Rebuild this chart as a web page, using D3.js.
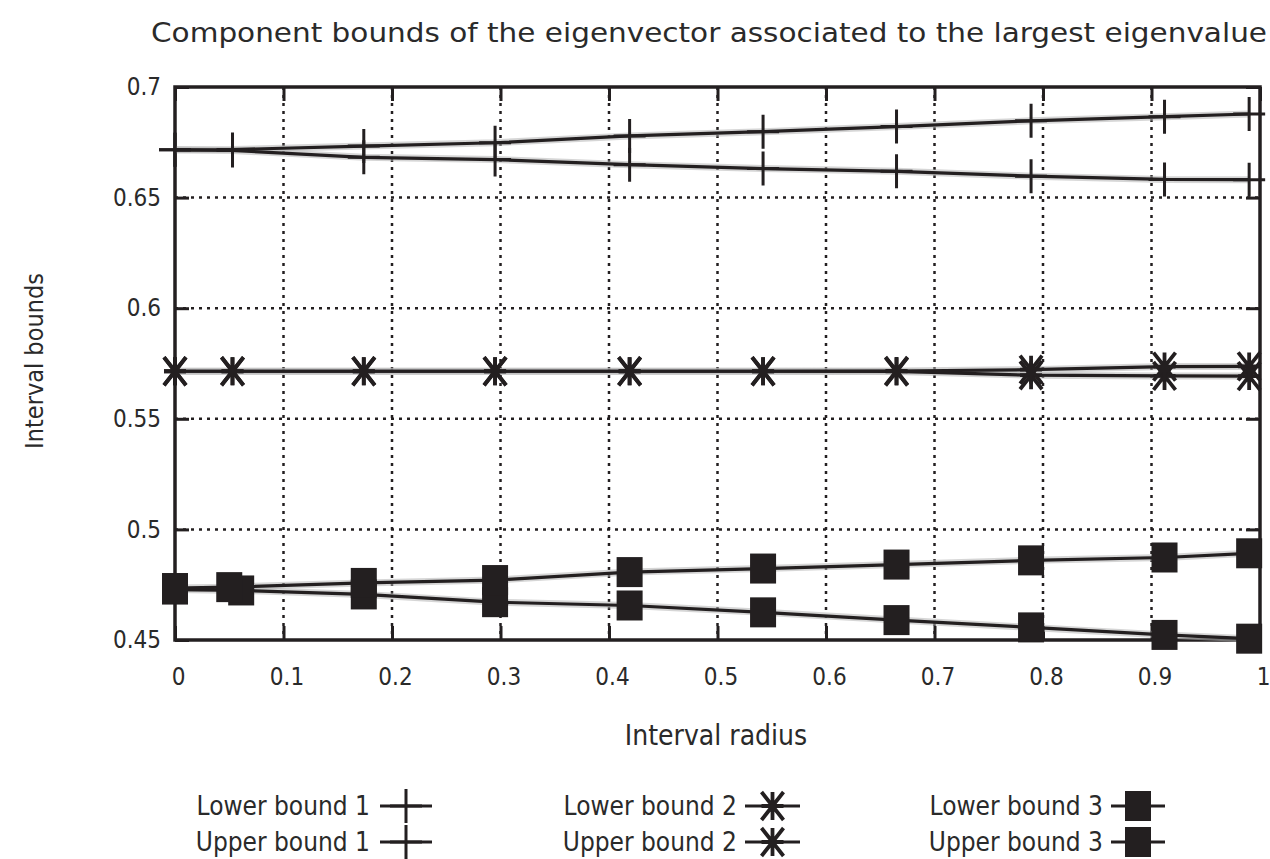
<!DOCTYPE html>
<html>
<head>
<meta charset="utf-8">
<script src="https://cdn.jsdelivr.net/npm/d3@7"></script>
<style>
  html, body { margin: 0; padding: 0; background: #fff; }
  svg { display: block; }
  text { font-family: "DejaVu Sans Condensed", "Liberation Sans Narrow", "DejaVu Sans", sans-serif; fill: #2a2a2a; }
</style>
</head>
<body>
<svg id="chart" width="1270" height="859"></svg>
<script>
// ---- data ----
const title = "Component bounds of the eigenvector associated to the largest eigenvalue";
const xLabel = "Interval radius";
const yLabel = "Interval bounds";
const xTicks = [0, 0.1, 0.2, 0.3, 0.4, 0.5, 0.6, 0.7, 0.8, 0.9, 1];
const yTicks = [0.45, 0.5, 0.55, 0.6, 0.65, 0.7];

const radius = [0, 0.053, 0.174, 0.295, 0.419, 0.542, 0.665, 0.789, 0.912, 0.99];
const radiusLower3 = [0, 0.061, 0.174, 0.295, 0.419, 0.542, 0.665, 0.789, 0.912, 0.99];
const radiusUpper3 = [0, 0.05, 0.174, 0.295, 0.419, 0.542, 0.665, 0.789, 0.912, 0.99];

const lower1 = [0.6716, 0.6713, 0.6682, 0.6672, 0.6649, 0.6631, 0.6619, 0.6597, 0.6582, 0.6581];
const upper1 = [0.6716, 0.6717, 0.6733, 0.6748, 0.6779, 0.6798, 0.6821, 0.6847, 0.6866, 0.6878];
const lower2 = [0.5715, 0.5715, 0.5715, 0.5715, 0.5715, 0.5715, 0.5714, 0.5697, 0.5694, 0.5693];
const upper2 = [0.5715, 0.5715, 0.5715, 0.5715, 0.5715, 0.5715, 0.5716, 0.5722, 0.5736, 0.5737];
const lower3 = [0.4728, 0.4724, 0.4706, 0.4671, 0.4656, 0.4625, 0.4590, 0.4557, 0.4523, 0.4506];
const upper3 = [0.4735, 0.4739, 0.4758, 0.4771, 0.4807, 0.4823, 0.4841, 0.4860, 0.4873, 0.4892];

const seriesNames = ["Lower bound 1", "Upper bound 1", "Lower bound 2", "Upper bound 2", "Lower bound 3", "Upper bound 3"];
const seriesMarkers = ["plus", "plus", "star", "star", "square", "square"];

// ---- layout ----
const svg = d3.select("#chart");
const L = 175, R = 1260, T = 87, B = 640;
const x = d3.scaleLinear().domain([0, 1]).range([L, R]);
const y = d3.scaleLinear().domain([0.45, 0.7]).range([B, T]);

const series = [
  { name: seriesNames[0], marker: seriesMarkers[0], xs: radius, ys: lower1 },
  { name: seriesNames[1], marker: seriesMarkers[1], xs: radius, ys: upper1 },
  { name: seriesNames[2], marker: seriesMarkers[2], xs: radius, ys: lower2 },
  { name: seriesNames[3], marker: seriesMarkers[3], xs: radius, ys: upper2 },
  { name: seriesNames[4], marker: seriesMarkers[4], xs: radiusLower3, ys: lower3 },
  { name: seriesNames[5], marker: seriesMarkers[5], xs: radiusUpper3, ys: upper3 },
];

const ink = "#231f20";
const FONT = '"DejaVu Sans Condensed", "Liberation Sans Narrow", "DejaVu Sans", sans-serif';

// grid
const grid = svg.append("g");
grid.selectAll("line.gx").data(xTicks.slice(1, -1)).join("line")
  .attr("x1", d => x(d)).attr("x2", d => x(d)).attr("y1", T).attr("y2", B)
  .attr("stroke", ink).attr("stroke-width", 2.5).attr("stroke-dasharray", "3,5");
grid.selectAll("line.gy").data(yTicks.slice(1, -1)).join("line")
  .attr("y1", d => y(d)).attr("y2", d => y(d)).attr("x1", L).attr("x2", R)
  .attr("stroke", ink).attr("stroke-width", 2.5).attr("stroke-dasharray", "3,5");

// axes (ticks inward, mirrored)
const tickLen = 14;
const axB = svg.append("g").attr("transform", `translate(0,${B})`)
  .call(d3.axisBottom(x).tickValues(xTicks).tickSize(-tickLen).tickPadding(28)
    .tickFormat(d => d3.format("")(d)));
const axT = svg.append("g").attr("transform", `translate(0,${T})`)
  .call(d3.axisTop(x).tickValues(xTicks).tickSize(-tickLen).tickFormat(""));
const axL = svg.append("g").attr("transform", `translate(${L},0)`)
  .call(d3.axisLeft(y).tickValues(yTicks).tickSize(-tickLen).tickPadding(14)
    .tickFormat(d => d3.format("")(d)));
const axR = svg.append("g").attr("transform", `translate(${R},0)`)
  .call(d3.axisRight(y).tickValues(yTicks).tickSize(-tickLen).tickFormat(""));
[axB, axT, axL, axR].forEach(a => {
  a.select(".domain").remove();
  a.selectAll(".tick line").attr("stroke", ink).attr("stroke-width", 3);
  a.selectAll(".tick text").attr("font-size", 24).attr("fill", "#2a2a2a")
    .style("font-family", FONT);
});
axB.selectAll(".tick text").attr("dy", "0.71em").attr("dx", 3);

// border
svg.append("rect").attr("x", L).attr("y", T).attr("width", R - L).attr("height", B - T)
  .attr("fill", "none").attr("stroke", ink).attr("stroke-width", 3.5);

// lines
const line = d3.line().x(d => x(d[0])).y(d => y(d[1]));
const plot = svg.append("g");
series.forEach(s => {
  const pts = s.xs.map((v, i) => [v, s.ys[i]]);
  plot.append("path").datum(pts).attr("d", line).attr("fill", "none")
    .attr("stroke", "#b5b5b5").attr("stroke-width", 7).attr("stroke-opacity", 0.55);
});
series.forEach(s => {
  const pts = s.xs.map((v, i) => [v, s.ys[i]]);
  plot.append("path").datum(pts).attr("d", line).attr("fill", "none")
    .attr("stroke", ink).attr("stroke-width", 3.2);
});

function drawMarker(g, type, cx, cy) {
  if (type === "plus") {
    g.append("path").attr("d", `M${cx - 16},${cy}H${cx + 16}M${cx},${cy - 17}V${cy + 17}`)
      .attr("stroke", ink).attr("stroke-width", 3).attr("fill", "none");
  } else if (type === "star") {
    const a = 11, b = 14;
    g.append("path").attr("d",
      `M${cx - a},${cy}H${cx + a}M${cx},${cy - b}V${cy + b}` +
      `M${cx - a},${cy - b}L${cx + a},${cy + b}M${cx - a},${cy + b}L${cx + a},${cy - b}`)
      .attr("stroke", ink).attr("stroke-width", 3.8).attr("fill", "none");
  } else {
    g.append("rect").attr("x", cx - 13).attr("y", cy - 15).attr("width", 26).attr("height", 30)
      .attr("fill", ink);
  }
}
series.forEach(s => {
  s.xs.forEach((v, i) => drawMarker(plot, s.marker, x(v), y(s.ys[i])));
});

// title & axis labels
svg.append("text").attr("x", 709).attr("y", 42).attr("text-anchor", "middle")
  .attr("font-size", 27).attr("textLength", 1116).attr("lengthAdjust", "spacingAndGlyphs")
  .text(title);
svg.append("text").attr("x", 716).attr("y", 745).attr("text-anchor", "middle")
  .attr("font-size", 28).text(xLabel);
svg.append("text").attr("transform", "translate(43,361) rotate(-90)").attr("text-anchor", "middle")
  .attr("font-size", 25).text(yLabel);

// legend
const legCols = [
  { textEnd: 370, lineStart: 380, lineEnd: 432 },
  { textEnd: 737, lineStart: 745, lineEnd: 800 },
  { textEnd: 1103, lineStart: 1111, lineEnd: 1165 },
];
const legRows = [806, 842];
const leg = svg.append("g");
series.forEach((s, i) => {
  const col = legCols[Math.floor(i / 2)];
  const ry = legRows[i % 2];
  leg.append("text").attr("x", col.textEnd).attr("y", ry).attr("dy", "0.35em")
    .attr("text-anchor", "end").attr("font-size", 26).text(s.name);
  leg.append("line").attr("x1", col.lineStart).attr("x2", col.lineEnd).attr("y1", ry).attr("y2", ry)
    .attr("stroke", ink).attr("stroke-width", 3);
  drawMarker(leg, s.marker, (col.lineStart + col.lineEnd) / 2, ry);
});
</script>
</body>
</html>
